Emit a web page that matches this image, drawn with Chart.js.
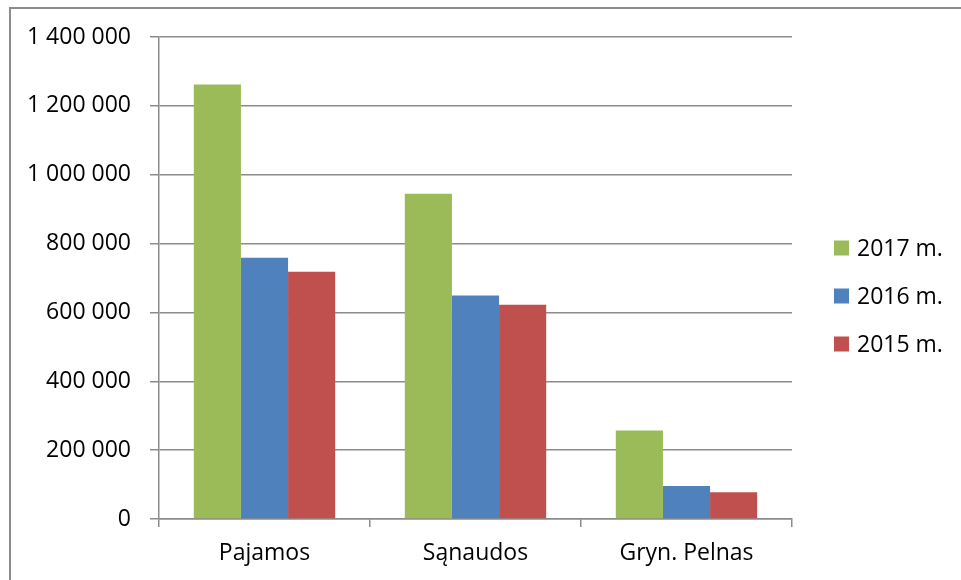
<!DOCTYPE html>
<html>
<head>
<meta charset="utf-8">
<script src="https://cdn.jsdelivr.net/npm/chart.js@4"></script>
<style>
  html, body { margin: 0; padding: 0; background: #fff; }
  #wrap { position: relative; width: 961px; height: 580px; overflow: hidden; }
  #frame { position: absolute; left: 9px; top: 7px; width: 1000px; height: 700px;
           border-left: 2px solid #8c8c8c; border-top: 2px solid #8c8c8c; }
  #chart { position: absolute; left: 0; top: 0; }
</style>
</head>
<body>
<div id="wrap">
  <div id="frame"></div>
  <canvas id="chart" width="961" height="580"></canvas>
</div>
<script>
const categories = ["Pajamos", "Sąnaudos", "Gryn. Pelnas"];
const seriesNames = ["2017 m.", "2016 m.", "2015 m."];
const values2017 = [1262000, 945000, 257000];
const values2016 = [759000, 649000, 96000];
const values2015 = [718000, 622000, 78000];
const colors = ["#9BBB59", "#4F81BD", "#C0504D"];

const FONT = "'Open Sans', 'Liberation Sans', sans-serif";

function spaced(v) {
  return String(v).replace(/\B(?=(\d{3})+(?!\d))/g, " ");
}

// legend drawn to the right of the plot, like the Excel one
const sideLegend = {
  id: "sideLegend",
  afterDraw(chart) {
    const ctx = chart.ctx;
    const a = chart.chartArea;
    ctx.save();
    ctx.font = "23px " + FONT;
    ctx.textBaseline = "middle";
    chart.data.datasets.forEach((ds, i) => {
      const y = a.top + 211 + i * 48;
      ctx.fillStyle = ds.backgroundColor;
      ctx.fillRect(a.right + 42, y - 7.5, 15, 15);
      ctx.fillStyle = "#000";
      ctx.fillText(ds.label, a.right + 65, y + 1);
    });
    ctx.restore();
  }
};

const datasets = [values2017, values2016, values2015].map((vals, i) => ({
  label: seriesNames[i],
  data: vals,
  backgroundColor: colors[i],
  borderWidth: 0,
  categoryPercentage: 0.67,
  barPercentage: 1.0
}));

new Chart(document.getElementById("chart").getContext("2d"), {
  type: "bar",
  data: { labels: categories, datasets: datasets },
  options: {
    responsive: false,
    animation: false,
    layout: { padding: { left: 0, top: 37, right: 169, bottom: 0 } },
    plugins: { legend: { display: false }, tooltip: { enabled: false } },
    scales: {
      x: {
        afterFit(s) { s.height = 61; },
        grid: { drawOnChartArea: false, drawTicks: true, tickLength: 8, color: "#8c8c8c", lineWidth: 1.5 },
        border: { color: "#8c8c8c", width: 1.5 },
        ticks: { color: "#000", font: { family: FONT, size: 23 }, padding: 13 }
      },
      y: {
        min: 0,
        max: 1400000,
        afterFit(s) { s.width = 159; },
        grid: { color: "#8c8c8c", lineWidth: 1.5, tickLength: 9 },
        border: { color: "#8c8c8c", width: 1.5 },
        ticks: {
          stepSize: 200000,
          color: "#000",
          font: { family: FONT, size: 23 },
          padding: 19,
          callback: v => spaced(v)
        }
      }
    }
  },
  plugins: [sideLegend]
});
</script>
</body>
</html>
